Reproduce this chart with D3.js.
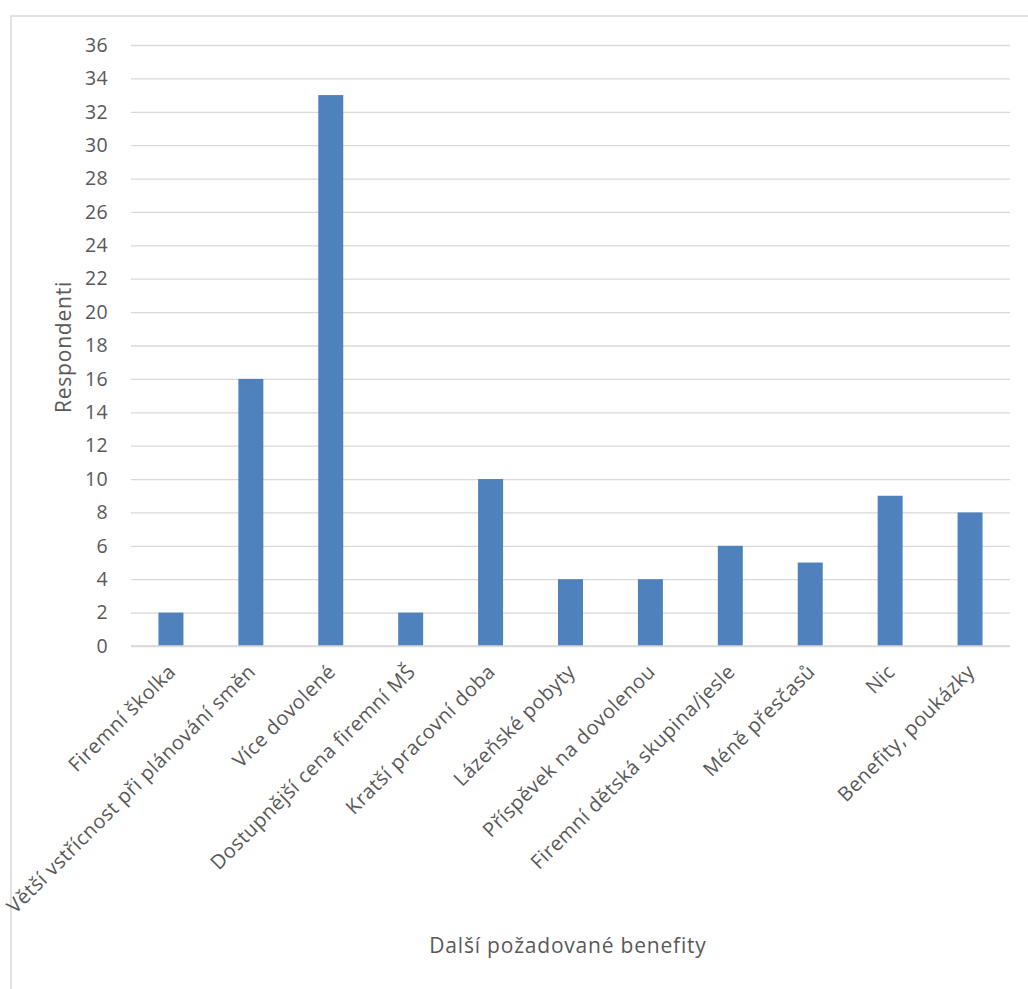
<!DOCTYPE html>
<html><head><meta charset="utf-8">
<script src="https://cdn.jsdelivr.net/npm/d3@7"></script>
<style>body{margin:0;background:#fff;} text{font-family:"Open Sans",sans-serif;}</style>
</head><body>
<svg id="c" width="1028" height="989"></svg>
<script>
const categories = ["Firemní školka","Větší vstřícnost při plánování směn","Více dovolené","Dostupnější cena firemní MŠ","Kratší pracovní doba","Lázeňské pobyty","Příspěvek na dovolenou","Firemní dětská skupina/jesle","Méně přesčasů","Nic","Benefity, poukázky"];
const values = [2,16,33,2,10,4,4,6,5,9,8];
const yTicks = [0,2,4,6,8,10,12,14,16,18,20,22,24,26,28,30,32,34,36];
const xTitle = "Další požadované benefity";
const yTitle = "Respondenti";

const svg = d3.select("#c");
const m = {left:131, right:1010, top:45, bottom:646};
// chart frame
svg.append("rect").attr("x",11).attr("y",16).attr("width",1040).attr("height",1000)
  .attr("fill","none").attr("stroke","#d9d9d9").attr("stroke-width",1.5);

const x = d3.scaleBand().domain(categories).range([m.left,m.right]).paddingInner(0.6875).paddingOuter(0.34375);
const y = d3.scaleLinear().domain([0,36]).range([m.bottom,m.top]);

const gy = svg.append("g").attr("transform",`translate(${m.left},0)`)
  .call(d3.axisLeft(y).tickValues(yTicks).tickSize(-(m.right-m.left)).tickPadding(23));
gy.select(".domain").remove();
gy.selectAll(".tick line").attr("stroke","#d9d9d9").attr("stroke-width",1.3);
gy.selectAll(".tick text").attr("fill","#595959").style("font-size","19.5px").style("font-family","'Open Sans',sans-serif").style("letter-spacing","0.3px");

svg.append("g").selectAll("rect").data(values).join("rect")
  .attr("x",(d,i)=>x(categories[i])).attr("width",x.bandwidth())
  .attr("y",d=>y(d)).attr("height",d=>y(0)-y(d)).attr("fill","#4f81bd");

// baseline
svg.append("line").attr("x1",m.left).attr("x2",m.right).attr("y1",y(0)).attr("y2",y(0)).attr("stroke","#d9d9d9").attr("stroke-width",1.5);

const gx = svg.append("g").attr("transform",`translate(0,${m.bottom})`)
  .call(d3.axisBottom(x).tickSize(0).tickPadding(0));
gx.select(".domain").remove();
gx.selectAll(".tick text").attr("fill","#595959").style("font-size","20px").style("letter-spacing","0.5px").style("font-family","'Open Sans',sans-serif")
  .attr("text-anchor","end").attr("dy",null).attr("x",0).attr("y",0)
  .attr("transform","translate(6,27) rotate(-45)");

svg.append("text").attr("x",568).attr("y",953).attr("text-anchor","middle").attr("fill","#595959").style("font-size","21px").style("letter-spacing","0.8px").text(xTitle);
svg.append("text").attr("transform","translate(71,347) rotate(-90)").attr("text-anchor","middle").attr("fill","#595959").style("font-size","21px").style("letter-spacing","0.8px").text(yTitle);
</script>
</body></html>
